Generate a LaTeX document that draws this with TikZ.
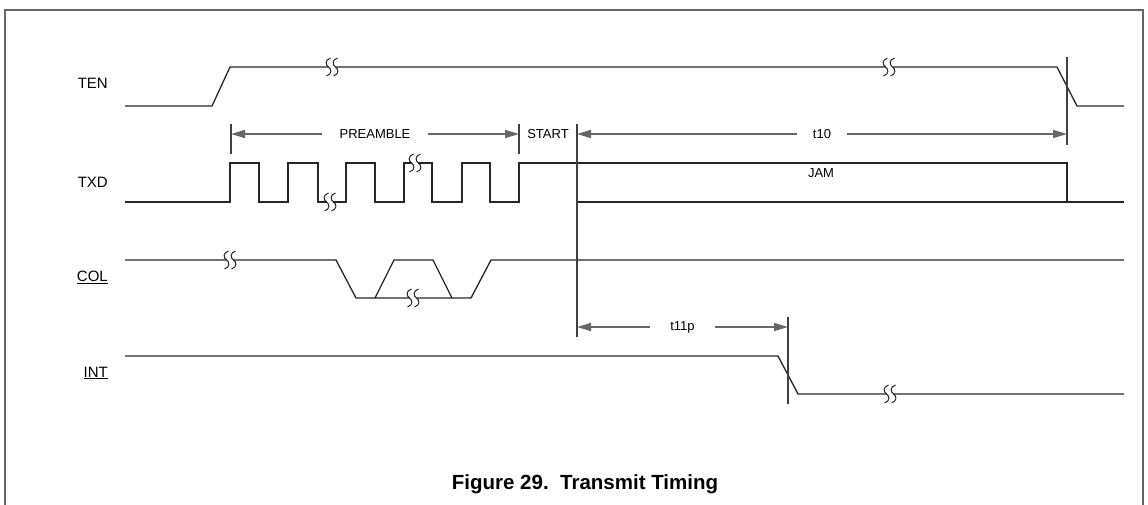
\documentclass[tikz,border=0pt]{standalone}
\usepackage{fontspec}
\setmainfont{Liberation Sans}
\usetikzlibrary{arrows.meta}

\tikzset{
  sig/.style={line width=1.3pt, black!85, line join=miter},
  dim/.style={line width=1.5pt, black!60,
    {Triangle[length=14pt,width=8pt]}-{Triangle[length=14pt,width=8pt]}},
  tickline/.style={line width=1.3pt, black!75},
  siglabel/.style={anchor=east, inner sep=0pt, font=\fontsize{15}{18}\selectfont},
  dimlabel/.style={fill=white, text=black, inner ysep=2pt, font=\fontsize{13}{15}\selectfont},
}

% interruzione del segnale
\newcommand{\sigbreak}[2]{%
  \fill[white] (#1-3,#2-3) rectangle (#1+3,#2+3);
  \foreach \dx in {-3.5,3.5}{
    \draw[line width=1pt, black!85] (#1+\dx+2,#2-9) .. controls (#1+\dx-4,#2-7) and (#1+\dx-3,#2-2) .. (#1+\dx,#2)
      .. controls (#1+\dx+3,#2+2) and (#1+\dx+4,#2+7) .. (#1+\dx-2,#2+9);
  }
}

\begin{document}
\begin{tikzpicture}[x=1pt,y=-1pt]
  \useasboundingbox (0,0) rectangle (1148,504);
  %cornice
  \draw[line width=1.4pt, black!60] (5,520) -- (5,10) -- (1143,10) -- (1143,520);

  %nomi
  \node[siglabel] (ten) at (108,83) {TEN};
  \node[siglabel] (txd) at (108,182) {TXD};
  \node[siglabel] (col) at (108,277) {\underline{COL}};
  \node[siglabel] (int) at (108,373) {\underline{INT}};

  %TEN
  \draw[sig] (125,106) -- (212,106) -- (230,67) -- (1057,67) -- (1077,106) -- (1124,106);
  \sigbreak{332}{67}
  \sigbreak{889}{67}

  %TXD
  \draw[sig] (125,202) -- (230,202) -- (230,163) -- (259,163) -- (259,202) -- (288,202)
    -- (288,163) -- (318,163) -- (318,202) -- (346,202) -- (346,163) -- (375,163)
    -- (375,202) -- (404,202) -- (404,163) -- (432,163) -- (432,202) -- (462,202)
    -- (462,163) -- (490,163) -- (490,202) -- (519,202) -- (519,163) -- (1067,163)
    -- (1067,202) -- (1124,202);
  \draw[sig] (577,202) -- (1067,202);
  \node[font=\fontsize{13}{15}\selectfont] (jam) at (821,173) {JAM};
  \sigbreak{330}{202}
  \sigbreak{415}{163}

  %COL
  \draw[sig] (125,260) -- (336,260) -- (356,298) -- (471,298) -- (491,260) -- (1124,260);
  \draw[sig] (375,298) -- (394,260) -- (433,260) -- (452,298);
  \sigbreak{230}{260}
  \sigbreak{413}{298}

  %INT
  \draw[sig] (125,356) -- (778,356) -- (798,394) -- (1124,394);
  \sigbreak{890}{394}

  %quote
  \coordinate (pa) at (231,134);
  \coordinate (pb) at (519,134);
  \coordinate (ta) at (577,134);
  \coordinate (tb) at (1067,134);
  \coordinate (ia) at (577,327);
  \coordinate (ib) at (788,327);
  \draw[tickline] (231,124) -- (231,154);
  \draw[tickline] (519,124) -- (519,154);
  \draw[tickline] (577,124) -- (577,337);
  \draw[tickline] (1067,57) -- (1067,145);
  \draw[tickline] (788,317) -- (788,404);
  \draw[dim] (pa) -- (pb) node[midway, dimlabel, inner xsep=18pt] (pre) {PREAMBLE};
  \node[font=\fontsize{13}{15}\selectfont] (start) at (548,134) {START};
  \draw[dim] (ta) -- (tb) node[midway, dimlabel, inner xsep=16pt] (tten) {t10};
  \draw[dim] (ia) -- (ib) node[midway, dimlabel, inner xsep=20pt] (televen) {t11p};

  %titolo
  \node[font=\bfseries\fontsize{20.5}{24}\selectfont] (title) at (585,484) {Figure 29.\ \ Transmit Timing};
\end{tikzpicture}
\end{document}
